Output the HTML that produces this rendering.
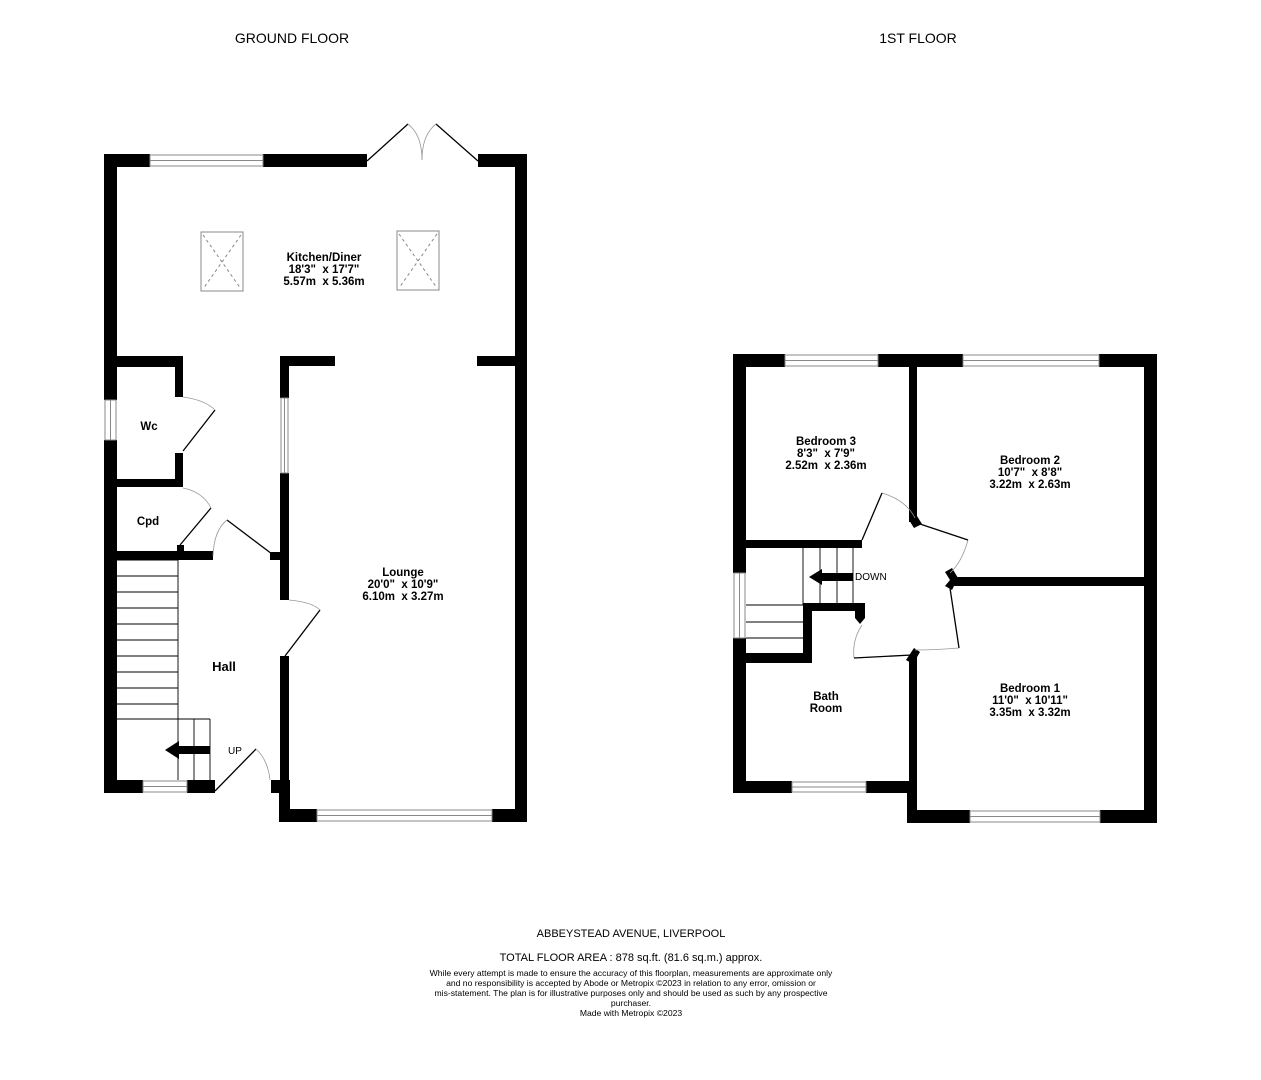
<!DOCTYPE html>
<html><head><meta charset="utf-8"><style>
html,body{margin:0;padding:0;background:#fff;}
svg{display:block;}
text{font-family:"Liberation Sans",Arial,sans-serif;}
.l{font-weight:bold;font-size:11.5px;text-anchor:middle;}
</style></head><body>
<svg width="1261" height="1080" viewBox="0 0 1261 1080" xmlns="http://www.w3.org/2000/svg">
<rect width="1261" height="1080" fill="#fff"/>
<text x="292" y="43" font-size="14" text-anchor="middle">GROUND FLOOR</text>
<text x="918" y="43" font-size="14" text-anchor="middle">1ST FLOOR</text>

<g fill="#000">
<rect x="104" y="154" width="46" height="13"/>
<rect x="263" y="154" width="104" height="13"/>
<rect x="478" y="154" width="49" height="13"/>
<rect x="104" y="154" width="13" height="246"/>
<rect x="104" y="440" width="13" height="353"/>
<rect x="515" y="154" width="12" height="668"/>
<rect x="104" y="780" width="39" height="13"/>
<rect x="187" y="780" width="28" height="13"/>
<rect x="117" y="356" width="66" height="11"/>
<rect x="175" y="356" width="8" height="41"/>
<rect x="175" y="453" width="8" height="34"/>
<rect x="117" y="479" width="66" height="8"/>
<rect x="177" y="545" width="7" height="8"/>
<rect x="117" y="551" width="96" height="9"/>
<rect x="280" y="356" width="55" height="10"/>
<rect x="477" y="356" width="38" height="10"/>
<rect x="280" y="356" width="9" height="42"/>
<rect x="280" y="473" width="9" height="127"/>
<rect x="270" y="552" width="12" height="8"/>
<rect x="280" y="656" width="9" height="124"/>
<rect x="271" y="780" width="19" height="13"/>
<rect x="279" y="780" width="11" height="42"/>
<rect x="279" y="809" width="38" height="13"/>
<rect x="492" y="809" width="35" height="13"/>
<rect x="178" y="746" width="32" height="8"/>
<polygon points="165,750 179,741 179,759"/>

<rect x="733" y="354" width="52" height="13"/>
<rect x="878" y="354" width="85" height="13"/>
<rect x="1099" y="354" width="58" height="13"/>
<rect x="733" y="354" width="13" height="219"/>
<rect x="733" y="638" width="13" height="155"/>
<rect x="1144" y="354" width="13" height="469"/>
<rect x="909" y="354" width="8" height="168"/>
<polygon points="909,520 917,516 922,524 914,528"/>
<rect x="746" y="540" width="116" height="8"/>
<rect x="950" y="577" width="194" height="9"/>
<polygon points="945,572 952,568 958,578 952,590 945,586 950,580"/>
<rect x="746" y="653" width="66" height="10"/>
<rect x="803" y="603" width="9" height="60"/>
<rect x="803" y="603" width="60" height="8"/>
<polygon points="855,603 865,603 865,618 860,624 855,618"/>
<rect x="909" y="655" width="8" height="168"/>
<polygon points="906,660 914,648 920,652 913,664"/>
<rect x="733" y="781" width="59" height="12"/>
<rect x="866" y="781" width="51" height="12"/>
<rect x="907" y="781" width="10" height="42"/>
<rect x="907" y="810" width="63" height="13"/>
<rect x="1100" y="810" width="57" height="13"/>
<rect x="820" y="573" width="33" height="8"/>
<polygon points="809,577 822,569 822,585"/>
</g>

<g fill="none" stroke="#888" stroke-width="1">
<rect x="150" y="155" width="113" height="11"/><line x1="150" y1="160.5" x2="263" y2="160.5"/>
<rect x="105" y="400" width="11" height="40"/><line x1="110.5" y1="400" x2="110.5" y2="440"/>
<rect x="143" y="781" width="44" height="11"/><line x1="143" y1="786.5" x2="187" y2="786.5"/>
<rect x="281" y="398" width="7" height="75"/><line x1="284.5" y1="398" x2="284.5" y2="473"/>
<rect x="317" y="810" width="175" height="11"/><line x1="317" y1="815.5" x2="492" y2="815.5"/>
<rect x="785" y="355" width="93" height="11"/><line x1="785" y1="360.5" x2="878" y2="360.5"/>
<rect x="963" y="355" width="136" height="11"/><line x1="963" y1="360.5" x2="1099" y2="360.5"/>
<rect x="734" y="573" width="11" height="65"/><line x1="739.5" y1="573" x2="739.5" y2="638"/>
<rect x="792" y="782" width="74" height="10"/><line x1="792" y1="787" x2="866" y2="787"/>
<rect x="970" y="811" width="130" height="11"/><line x1="970" y1="816.5" x2="1100" y2="816.5"/>
<rect x="201" y="232" width="42" height="59"/>
<rect x="397" y="231" width="42" height="59"/>
</g>
<g stroke="#888" stroke-dasharray="3,3" stroke-width="1">
<line x1="203" y1="235" x2="241" y2="289"/><line x1="241" y1="235" x2="203" y2="289"/>
<line x1="399" y1="234" x2="437" y2="288"/><line x1="437" y1="234" x2="399" y2="288"/>
</g>

<g fill="none" stroke="#000" stroke-width="1.3">
<line x1="367" y1="161" x2="408" y2="124"/><line x1="478" y1="161" x2="436" y2="124"/>
<line x1="183" y1="451" x2="215" y2="410"/>
<line x1="180" y1="545" x2="211" y2="508"/>
<line x1="272" y1="554" x2="227" y2="520"/>
<line x1="285" y1="656" x2="320" y2="610"/>
<line x1="215" y1="791" x2="256" y2="749"/>
<line x1="117" y1="560" x2="178" y2="560" stroke-width="1"/>
</g>
<g fill="none" stroke="#000" stroke-width="0.9">
<path d="M117 576H178M117 592H178M117 608H178M117 624H178M117 640H178M117 656H178M117 672H178M117 688H178M117 704H178M117 719H210M178 560V780M210 719V780M194 719V780"/>
<path d="M803 548V605M820 548V603M837 548V603M853 548V603M746 605H803M746 622H803M746 638H803"/>
</g>
<g fill="none" stroke="#999" stroke-width="0.8">
<path d="M408 124Q422 135 422 160"/><path d="M436 124Q422 135 422 160"/>
<path d="M183 397Q205 400 215 410"/>
<path d="M183 488Q203 492 211 508"/>
<path d="M213 556Q214 530 227 520"/>
<path d="M289 600Q312 602 320 610"/>
<path d="M256 749Q268 760 270 780"/>
<path d="M882 493Q906 500 915 518"/>
<path d="M968 540Q962 562 950 573"/>
<path d="M959 648Q935 650 915 650"/>
<path d="M854 658Q852 640 862 625"/>
</g>
<g fill="none" stroke="#000" stroke-width="1.3">
<line x1="862" y1="540" x2="882" y2="493"/>
<line x1="917" y1="523" x2="968" y2="540"/>
<line x1="950" y1="588" x2="959" y2="648"/>
<line x1="912" y1="655" x2="854" y2="658"/>
</g>

<text x="228" y="754" font-size="10">UP</text>
<text x="855" y="580" font-size="10">DOWN</text>

<text class="l" x="324" y="261">Kitchen/Diner</text>
<text class="l" x="324" y="273">18'3" &#160;x 17'7"</text>
<text class="l" x="324" y="285">5.57m &#160;x 5.36m</text>
<text class="l" x="149" y="430">Wc</text>
<text class="l" x="148" y="525">Cpd</text>
<text x="224" y="671" font-size="13" font-weight="bold" text-anchor="middle">Hall</text>
<text class="l" x="403" y="576">Lounge</text>
<text class="l" x="403" y="588">20'0" &#160;x 10'9"</text>
<text class="l" x="403" y="600">6.10m &#160;x 3.27m</text>
<text class="l" x="826" y="445">Bedroom 3</text>
<text class="l" x="826" y="457">8'3" &#160;x 7'9"</text>
<text class="l" x="826" y="469">2.52m &#160;x 2.36m</text>
<text class="l" x="1030" y="464">Bedroom 2</text>
<text class="l" x="1030" y="476">10'7" &#160;x 8'8"</text>
<text class="l" x="1030" y="488">3.22m &#160;x 2.63m</text>
<text class="l" x="826" y="700">Bath</text>
<text class="l" x="826" y="712">Room</text>
<text class="l" x="1030" y="692">Bedroom 1</text>
<text class="l" x="1030" y="704">11'0" &#160;x 10'11"</text>
<text class="l" x="1030" y="716">3.35m &#160;x 3.32m</text>

<text x="631" y="937" font-size="11" text-anchor="middle">ABBEYSTEAD AVENUE, LIVERPOOL</text>
<text x="631" y="961" font-size="11" text-anchor="middle">TOTAL FLOOR AREA : 878 sq.ft. (81.6 sq.m.) approx.</text>
<g font-size="8.6" text-anchor="middle">
<text x="631" y="976">While every attempt is made to ensure the accuracy of this floorplan, measurements are approximate only</text>
<text x="631" y="986">and no responsibility is accepted by Abode or Metropix ©2023 in relation to any error, omission or</text>
<text x="631" y="996">mis-statement. The plan is for illustrative purposes only and should be used as such by any prospective</text>
<text x="631" y="1006">purchaser.</text>
<text x="631" y="1016">Made with Metropix ©2023</text>
</g>
</svg>
</body></html>
